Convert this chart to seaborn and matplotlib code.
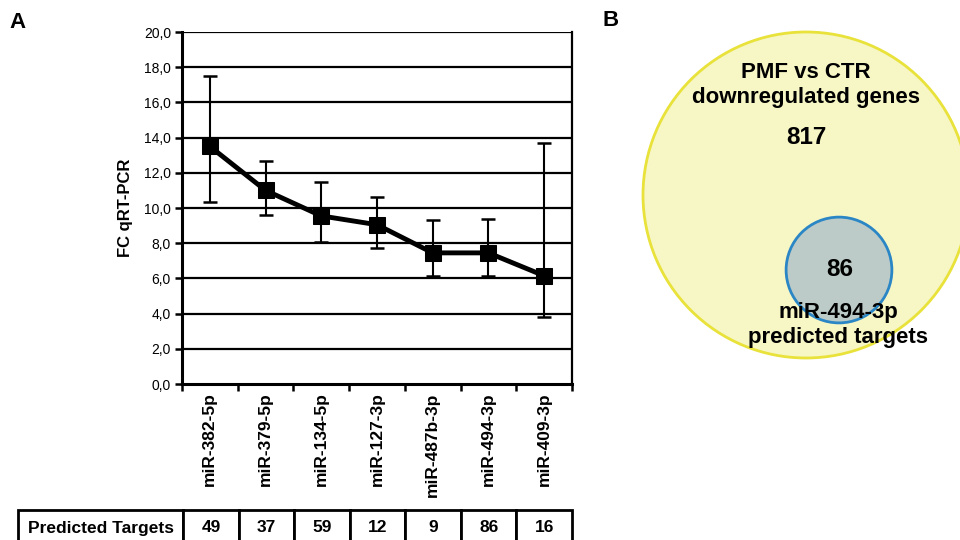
import matplotlib
matplotlib.use("Agg")
import matplotlib.pyplot as plt
import seaborn as sns
import pandas as pd
import numpy as np
from matplotlib.patches import Circle

# panel A data
mirnas = ["miR-382-5p", "miR-379-5p", "miR-134-5p", "miR-127-3p",
          "miR-487b-3p", "miR-494-3p", "miR-409-3p"]
fc = [13.5, 11.0, 9.55, 9.05, 7.45, 7.45, 6.15]
err_top = [17.5, 12.65, 11.5, 10.6, 9.3, 9.4, 13.7]
err_bottom = [10.35, 9.6, 8.05, 7.75, 6.15, 6.15, 3.8]
targets = [49, 37, 59, 12, 9, 86, 16]
yticks = [0, 2, 4, 6, 8, 10, 12, 14, 16, 18, 20]

# panel B data
deg_label = "PMF vs CTR\ndownregulated genes"
deg_count = 817
mir_label = "miR-494-3p\npredicted targets"
mir_count = 86

sns.set_theme(style="white")
plt.rcParams['font.family'] = ['Liberation Sans', 'DejaVu Sans']
plt.rcParams.update({"text.color": "black", "axes.labelcolor": "black",
                     "xtick.color": "black", "ytick.color": "black"})

fig = plt.figure(figsize=(9.6, 5.4), dpi=100)
W, H = 960, 540
ax = fig.add_axes([182 / W, (H - 384) / H, 390 / W, 352 / H])

df = pd.DataFrame({"x": np.arange(len(mirnas)), "fc": fc})
ax.hlines(yticks[1:], -0.5, len(mirnas) - 0.5, color="black", lw=1.6, zorder=1)
lo = np.array(fc) - np.array(err_bottom)
hi = np.array(err_top) - np.array(fc)
ax.errorbar(df["x"], df["fc"], yerr=[lo, hi], fmt="none", ecolor="black",
            elinewidth=1.5, capsize=5, capthick=1.8, zorder=2)
sns.lineplot(data=df, x="x", y="fc", ax=ax, color="black", lw=3.5,
             marker="s", markersize=12, markeredgecolor="black", zorder=3)

ax.set_xlim(-0.5, len(mirnas) - 0.5)
ax.set_ylim(0, 20)
ax.set_yticks(yticks)
ax.set_yticklabels([f"{v:.1f}".replace(".", ",") for v in yticks], fontsize=10)
ax.set_xticks(np.arange(len(mirnas) + 1) - 0.5, minor=False)
ax.set_xticklabels([])
ax.set_xticks(df["x"], minor=True)
ax.set_xticklabels(mirnas, minor=True, rotation=90, fontsize=12.5,
                   fontweight="bold", va="top")
ax.tick_params(axis="x", which="minor", length=0, pad=6)
ax.tick_params(axis="x", which="major", length=5, width=1.8, direction="out",
               bottom=True)
ax.tick_params(axis="y", length=5, width=1.8, direction="out", left=True, pad=3)
ax.set_xlabel("")
ax.set_ylabel("FC qRT-PCR", fontsize=12, fontweight="bold", labelpad=8)
for s in ["left", "bottom"]:
    ax.spines[s].set_linewidth(2.2)
    ax.spines[s].set_color("black")
ax.spines["top"].set_visible(False)
ax.spines["right"].set_linewidth(1.6)
ax.spines["right"].set_color("black")

# table of predicted targets
tab = ax.table(cellText=[["Predicted Targets"] + [str(t) for t in targets]],
               colWidths=[166] + [390 / 7] * 7, cellLoc="center",
               bbox=[(18 - 182) / 390, (384 - 546) / 352, 554 / 390, 36 / 352])
tab.auto_set_font_size(False)
for (r, c), cell in tab.get_celld().items():
    cell.set_linewidth(2)
    cell.set_edgecolor("black")
    cell.get_text().set_fontweight("bold")
    cell.get_text().set_fontsize(12.5)
    cell.get_text().set_color("black")
    cell.PAD = 0.02

# panel B venn
axv = fig.add_axes([0, 0, 1, 1])
axv.set_xlim(0, W)
axv.set_ylim(H, 0)
axv.axis("off")
axv.patch.set_visible(False)
R = 163
r = R * np.sqrt(mir_count / deg_count)
axv.add_patch(Circle((806, 195), R, facecolor="#f7f6c5", edgecolor="#e8e23a", lw=2))
axv.add_patch(Circle((839, 270), r, facecolor="#bccbc7", edgecolor="#2b86c5", lw=2))
axv.text(806, 85, deg_label, ha="center", va="center", fontsize=16,
         fontweight="bold", linespacing=1.3)
axv.text(806, 138, str(deg_count), ha="center", va="center", fontsize=17.5,
         fontweight="bold")
axv.text(840, 270, str(mir_count), ha="center", va="center", fontsize=17.5,
         fontweight="bold")
axv.text(838, 325, mir_label, ha="center", va="center", fontsize=16,
         fontweight="bold", linespacing=1.3)

axv.text(9, 22, "A", fontsize=16, fontweight="bold", va="center")
axv.text(602, 21, "B", fontsize=16, fontweight="bold", va="center")

fig.savefig("out.png", dpi=100)
